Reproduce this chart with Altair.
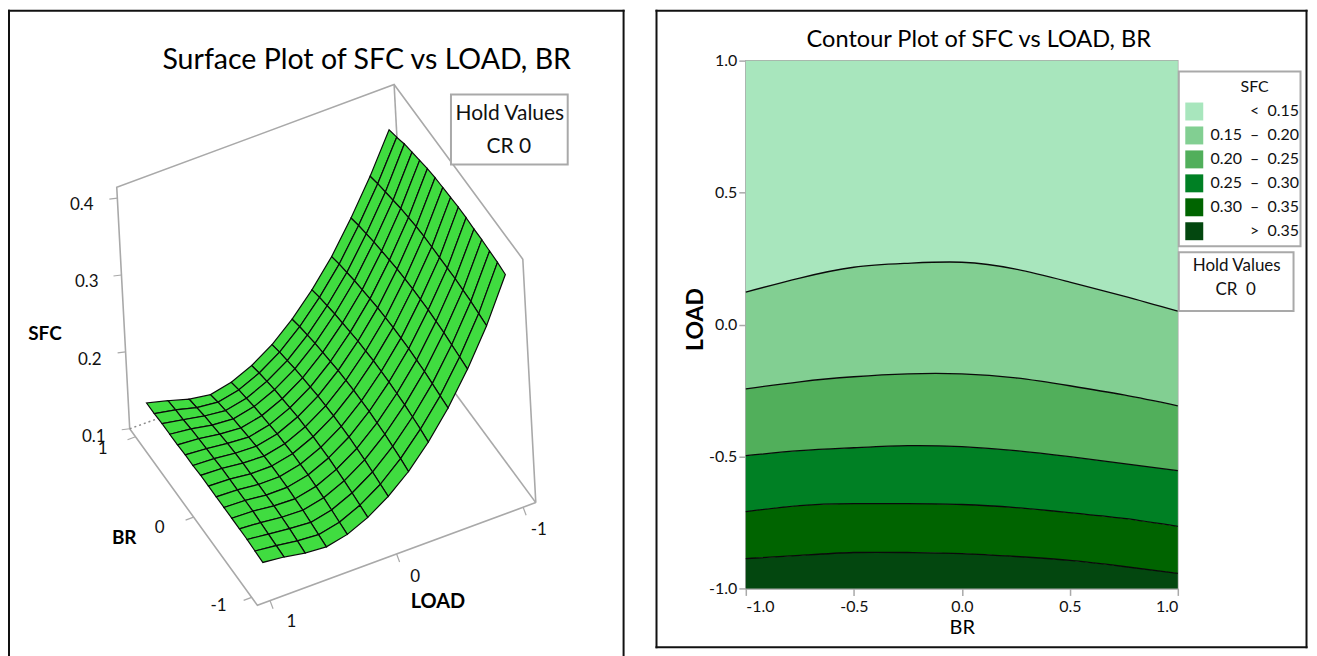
import altair as alt

SMALL = "Lato"
GRAY = "#a9a9a9"
INK = "#111111"

# ---------- surface data ----------
BR_NODES = [-1, -0.867, -0.733, -0.6, -0.467, -0.333, -0.2, -0.067, 0.067, 0.2, 0.333, 0.467, 0.6, 0.733, 0.867, 1]
LOAD_NODES = [1, 0.833, 0.667, 0.5, 0.333, 0.167, 0, -0.167, -0.333, -0.5, -0.667, -0.833, -1]
SFC_TABLE = [
    [.139, .140, .141, .141, .141, .141, .141, .141, .141, .140, .140, .139, .139, .139, .138, .138],
    [.136, .137, .138, .139, .140, .140, .140, .140, .140, .139, .138, .137, .136, .134, .133, .131],
    [.131, .133, .135, .136, .137, .137, .137, .137, .137, .136, .135, .133, .131, .129, .126, .123],
    [.129, .131, .133, .135, .136, .137, .137, .137, .136, .135, .133, .131, .129, .126, .123, .119],
    [.135, .137, .139, .141, .142, .143, .143, .143, .142, .141, .139, .137, .135, .132, .129, .125],
    [.147, .149, .151, .153, .154, .155, .155, .155, .154, .153, .151, .149, .147, .144, .141, .137],
    [.164, .166, .168, .170, .171, .172, .172, .172, .171, .170, .168, .166, .164, .161, .158, .154],
    [.186, .189, .191, .193, .194, .195, .195, .195, .194, .193, .191, .189, .187, .184, .181, .177],
    [.214, .217, .219, .221, .222, .223, .223, .223, .222, .221, .219, .217, .215, .212, .209, .205],
    [.248, .250, .252, .254, .255, .256, .256, .256, .255, .254, .252, .250, .248, .245, .242, .238],
    [.288, .290, .292, .294, .295, .296, .296, .296, .295, .294, .292, .290, .288, .285, .282, .278],
    [.334, .336, .338, .339, .340, .340, .340, .340, .340, .339, .337, .335, .332, .329, .326, .322],
    [.390, .392, .393, .394, .394, .395, .395, .394, .393, .392, .390, .387, .384, .381, .376, .372],
]
SFC_TICKS = [0.4, 0.3, 0.2, 0.1]
BR_TICKS = [1, 0, -1]
LOAD_TICKS = [1, 0, -1]

# ---------- contour data ----------
CONTOUR_BR = [-1, -0.75, -0.5, -0.25, 0, 0.25, 0.5, 0.75, 1]
LEVEL_015 = [0.123, 0.176, 0.217, 0.232, 0.236, 0.210, 0.161, 0.108, 0.051]
LEVEL_020 = [-0.244, -0.217, -0.198, -0.187, -0.187, -0.202, -0.232, -0.267, -0.308]
LEVEL_025 = [-0.497, -0.478, -0.467, -0.459, -0.463, -0.478, -0.501, -0.527, -0.554]
LEVEL_030 = [-0.709, -0.686, -0.679, -0.679, -0.682, -0.694, -0.713, -0.735, -0.765]
LEVEL_035 = [-0.887, -0.875, -0.864, -0.864, -0.868, -0.879, -0.894, -0.917, -0.943]
BAND_LABELS = ["<\u00a0\u00a00.15", "0.15\u00a0\u00a0\u2013\u00a0\u00a00.20", "0.20\u00a0\u00a0\u2013\u00a0\u00a00.25",
               "0.25\u00a0\u00a0\u2013\u00a0\u00a00.30", "0.30\u00a0\u00a0\u2013\u00a0\u00a00.35", ">\u00a0\u00a00.35"]
BAND_COLORS = ["#A8E6BD", "#82CF92", "#51AF5B", "#008024", "#006400", "#03470F"]

# ---------- left panel: projection of the 3D box on the page ----------
OX, OY = 8, 59
FLOOR = {"A": (130, 428), "B": (258, 605), "C": (537, 502), "D": (408, 327)}
ROOF = {"A": (117, 186), "B": (246, 361), "C": (524, 258), "D": (395, 83)}
Z_LOW, Z_HIGH, BOX = 0.1, 0.414, 1.1


def project(br, load, z):
    u = (BOX - br) / (2 * BOX)
    v = (BOX - load) / (2 * BOX)
    t = (z - Z_LOW) / (Z_HIGH - Z_LOW)

    def plane(c):
        ax, ay = c["A"]; bx, by = c["B"]; cx, cy = c["C"]; dx, dy = c["D"]
        x0, y0 = ax + (dx - ax) * v, ay + (dy - ay) * v
        x1, y1 = bx + (cx - bx) * v, by + (cy - by) * v
        return x0 + (x1 - x0) * u, y0 + (y1 - y0) * u

    fx, fy = plane(FLOOR)
    rx, ry = plane(ROOF)
    return [fx + (rx - fx) * t, fy + (ry - fy) * t]


def collection(geoms):
    return alt.Data(values={"type": "FeatureCollection",
                            "features": [{"type": "Feature", "properties": {}, "geometry": g} for g in geoms]},
                    format=alt.DataFormat(property="features", type="json"))


def polyline(*pts):
    return {"type": "LineString", "coordinates": [list(p) for p in pts]}


PROJ = alt.Projection(type="identity", scale=1, translate=[-OX, -OY])


def geo(geoms, **kw):
    return alt.Chart(collection(geoms)).mark_geoshape(clip=False, **kw).properties(projection=PROJ)


def label(text, px, py, ox, oy, size, font=SMALL, weight="normal", angle=0, color=INK):
    m = dict(font=font, fontSize=size, fontWeight=weight, align="center", baseline="middle", color=color)
    if angle:
        m["angle"] = angle
    return alt.Chart(alt.Data(values=[{"t": text}])).mark_text(**m).encode(
        x=alt.value(px - ox), y=alt.value(py - oy), text="t:N")


def bar(x0, y0, x1, y1, ox, oy, color=INK):
    return alt.Chart(alt.Data(values=[{"b": 1}])).mark_rect(fill=color, stroke=None).encode(
        x=alt.value(x0 - ox), x2=alt.value(x1 - ox), y=alt.value(y0 - oy), y2=alt.value(y1 - oy))


# cells, painted from the far corner to the near corner
cells = []
for i in range(len(LOAD_NODES) - 2, -1, -1):
    for j in range(len(BR_NODES) - 2, -1, -1):
        ring = [project(BR_NODES[j], LOAD_NODES[i], SFC_TABLE[i][j]),
                project(BR_NODES[j + 1], LOAD_NODES[i], SFC_TABLE[i][j + 1]),
                project(BR_NODES[j + 1], LOAD_NODES[i + 1], SFC_TABLE[i + 1][j + 1]),
                project(BR_NODES[j], LOAD_NODES[i + 1], SFC_TABLE[i + 1][j])]
        ring.append(ring[0])
        cells.append({"type": "Polygon", "coordinates": [ring]})

A0, B0, C0, D0 = FLOOR["A"], FLOOR["B"], FLOOR["C"], FLOOR["D"]
A1, C1, D1 = ROOF["A"], ROOF["C"], ROOF["D"]
box_lines = [polyline(A0, B0, C0), polyline(A0, A1, D1, C1, C0), polyline(D1, D0), polyline(C0, D0)]

ticks = []
for z in SFC_TICKS:
    p = project(BOX, BOX, z)
    ticks.append(polyline(p, (p[0] - 8, p[1] + 1)))
for b in BR_TICKS:
    p = project(b, BOX, Z_LOW)
    ticks.append(polyline(p, (p[0] - 8, p[1] + 3)))
for l in LOAD_TICKS:
    p = project(-BOX, l, Z_LOW)
    ticks.append(polyline(p, (p[0] + 3, p[1] + 8)))

hold_box = [{"type": "Polygon", "coordinates": [[[452, 93], [569, 93], [569, 163], [452, 163], [452, 93]]]}]

left_layers = [
    geo(box_lines, filled=False, stroke=GRAY, strokeWidth=1.6),
    geo(ticks, filled=False, stroke=GRAY, strokeWidth=1.2),
    geo([polyline(A0, D0)], filled=False, stroke="#8a8a8a", strokeWidth=1.5, strokeDash=[2, 3]),
    geo(cells, fill="#40DC40", stroke="#0a0a0a", strokeWidth=1.2),
    geo(hold_box, fill="white", stroke=GRAY, strokeWidth=2),
    bar(8, 8, 10, 656, OX, OY),
    bar(8, 8, 626, 10, OX, OY),
    bar(624, 8, 626, 656, OX, OY),
    label("Surface Plot of SFC vs LOAD, BR", 367.5, 58, OX, OY, 28.6, color="#000000"),
    label("Hold Values", 511, 113, OX, OY, 21),
    label("CR 0", 510, 146, OX, OY, 21),
    label("SFC", 45, 333, OX, OY, 19, weight="bold", color="#000000"),
    label("BR", 124.5, 537, OX, OY, 19, weight="bold", color="#000000"),
    label("LOAD", 439, 602, OX, OY, 20, weight="bold", color="#000000"),
]
for txt, px, py in [("0.4", 82, 204), ("0.3", 87, 281), ("0.2", 90, 359), ("0.1", 94, 436),
                    ("1", 103, 448), ("0", 160, 527), ("-1", 219, 606),
                    ("1", 292, 622), ("0", 416, 577), ("-1", 540, 529)]:
    left_layers.append(label(txt, px, py, OX, OY, 17))
left = alt.layer(*left_layers).properties(width=617, height=529, view=alt.ViewBackground(stroke=None))

# ---------- right panel ----------
RX, RY = 746, 59
levels = [[1.0] * len(CONTOUR_BR), LEVEL_015, LEVEL_020, LEVEL_025, LEVEL_030, LEVEL_035, [-1.0] * len(CONTOUR_BR)]
band_rows = []
for k, name in enumerate(BAND_LABELS):
    for i, b in enumerate(CONTOUR_BR):
        band_rows.append({"BR": b, "hi": levels[k][i], "lo": levels[k + 1][i], "band": name, "k": k})
line_rows = []
for k in range(1, 6):
    for i, b in enumerate(CONTOUR_BR):
        line_rows.append({"BR": b, "LOAD": levels[k][i], "level": k})

axis_common = dict(domainColor=GRAY, domainWidth=1.5, tickColor=GRAY, tickWidth=1.5, tickSize=7, grid=False,
                   labelFont=SMALL, labelFontSize=16, labelColor=INK, titleColor="#000000",
                   labelExpr="replace(format(datum.value, '.1f'), '\u2212', '-')")
x_enc = alt.X("BR:Q", scale=alt.Scale(domain=[-1, 1], nice=False, zero=False),
              axis=alt.Axis(values=[-1, -0.5, 0, 0.5, 1], title="BR", titleFont=SMALL, titleFontSize=20,
                            titleFontWeight="normal", titlePadding=3, labelPadding=3, **axis_common))
y_enc = alt.Y("hi:Q", scale=alt.Scale(domain=[-1, 1], nice=False, zero=False),
              axis=alt.Axis(values=[-1, -0.5, 0, 0.5, 1], title="LOAD", titleFont=SMALL, titleFontSize=23,
                            titleFontWeight="bold", titlePadding=1, labelPadding=2, titleY=259, **axis_common))

bands = alt.Chart(alt.Data(values=band_rows)).mark_area(interpolate="natural", opacity=1).encode(
    x=x_enc, y=y_enc, y2="lo:Q",
    color=alt.Color("band:N", sort=BAND_LABELS,
                    scale=alt.Scale(domain=BAND_LABELS, range=BAND_COLORS),
                    legend=alt.Legend(title=None, orient="none", legendX=1180, legendY=42, symbolType="square",
                                      symbolSize=324, symbolStrokeWidth=0, symbolOpacity=1, rowPadding=6,
                                      labelFont=SMALL, labelFontSize=16, labelColor=INK,
                                      labelAlign="right", labelOffset=96, labelLimit=200)),
    order="k:Q")
contours = alt.Chart(alt.Data(values=line_rows)).mark_line(interpolate="natural", color="#0a0a0a", strokeWidth=1.3).encode(
    x=alt.X("BR:Q"), y=alt.Y("LOAD:Q"), detail="level:N")


def box(x0, y0, x1, y1, stroke, width):
    return alt.Chart(alt.Data(values=[{"b": 1}])).mark_rect(stroke=stroke, strokeWidth=width, fill="transparent").encode(
        x=alt.value(x0 - RX), x2=alt.value(x1 - RX), y=alt.value(y0 - RY), y2=alt.value(y1 - RY))


right = alt.layer(
    bands, contours,
    bar(655.5, 8, 657.5, 648, RX, RY),
    bar(655.5, 8, 1309, 10, RX, RY),
    bar(1307, 8, 1309, 648, RX, RY),
    bar(655.5, 646, 1309, 648, RX, RY),
    box(1180, 70, 1302, 245, GRAY, 2),
    box(1180, 251, 1295, 310, GRAY, 2),
    label("Contour Plot of SFC vs LOAD, BR", 979.5, 38, RX, RY, 23.6, color="#000000"),
    label("SFC", 1256, 85, RX, RY, 16),
    label("Hold Values", 1238, 265, RX, RY, 17),
    label("CR\u00a0\u00a00", 1237, 289, RX, RY, 17),
).properties(width=433, height=529, view=alt.ViewBackground(stroke=GRAY, strokeWidth=1.5))

chart = alt.hconcat(left, right, spacing=29.5).properties(padding=0).configure_view(strokeWidth=1.5)
chart.save("out.html", embed_options={"renderer": "svg", "actions": False})
